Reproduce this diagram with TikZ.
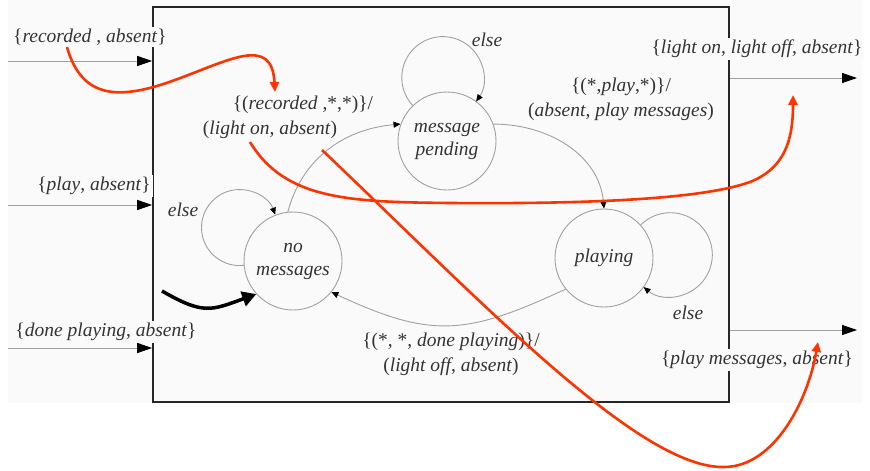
\documentclass[tikz,border=0pt]{standalone}
\usepackage{fontspec}
\setmainfont{Liberation Serif}
\usetikzlibrary{arrows.meta}
\definecolor{ink}{HTML}{333333}
\definecolor{edgegrey}{HTML}{A0A0A0}
\definecolor{paper}{HTML}{FAFAFA}
\definecolor{hl}{HTML}{FF3300}
\begin{document}
\begin{tikzpicture}[x=1pt,y=-1pt,
  every node/.style={text=ink, font=\fontsize{19.5}{25}\selectfont, inner sep=1pt},
  state/.style={circle, draw=edgegrey, line width=0.9pt, minimum size=98pt,
    inner sep=0pt, align=center, font=\fontsize{19.5}{25}\selectfont\itshape},
  trans/.style={draw=edgegrey, line width=0.9pt,
    -{Triangle[length=7pt,width=6pt,color=black]}},
  io/.style={draw=edgegrey, line width=1pt,
    -{Triangle[length=15pt,width=10pt,color=black]}},
  iolabel/.style={fill=paper, inner sep=2pt},
  initarrow/.style={draw=black, line width=3.5pt,
    -{Triangle[length=14pt,width=15pt]}},
  trace/.style={draw=hl, line width=2.6pt,
    -{Triangle[length=10pt,width=9pt]}},
  tr/.style={align=center},
]
\useasboundingbox (0,0) rectangle (870,471);
\fill[paper] (8,0) rectangle (862,403);

% system boundary
\node[draw=black!85, line width=1.6pt, minimum width=576pt, minimum height=395pt,
  inner sep=0pt] (sys) at (441,204.5) {};

% states
\node[state] (mp) at (447,141) {message\\[-2pt]pending};
\node[state] (nm) at (293,261) {no\\[-2pt]messages};
\node[state] (pl) at (604,258) {playing};

% self loops
\draw[trans] (mp.134) arc[start angle=222.7, end angle=-35.6, radius=41pt];
\draw[trans] (nm.185.5) arc[start angle=276.4, end angle=19.9, radius=38pt];
\draw[trans] (pl.42) arc[start angle=134.8, end angle=-129.6, radius=42pt];
\node (e1) at (487,40) {\textit{else}};
\node (e2) at (183,210) {\textit{else}};
\node (e3) at (688,313) {\textit{else}};

% transitions
\draw[trans] (nm.96) to[out=75, in=185] (mp.160);
\draw[trans] (mp.20) to[out=0, in=95] (pl.90);
\draw[trans] (pl.219) to[out=205, in=335, looseness=1.2] (nm.321);

\node (t1a) at (303,105) {\{(\textit{recorded} ,*,*)\}/};
\node (t1b) at (270,130) {(\textit{light on}, \textit{absent})};
\node[tr] (t2) at (621,99) {\{(*,\textit{play},*)\}/\\(\textit{absent}, \textit{play messages})};
\node[tr] (t3) at (451,354) {\{(*, *, \textit{done playing})\}/\\(\textit{light off}, \textit{absent})};

% initial state marker
\coordinate (init) at (162,291);
\draw[initarrow] (init) to[out=-30, in=200, looseness=1.3] (nm.222);

% inputs
\coordinate (i1) at (8,61);
\coordinate (i2) at (8,205);
\coordinate (i3) at (8,348);
\draw[io] (i1) -- (i1 -| sys.west);
\draw[io] (i2) -- (i2 -| sys.west);
\draw[io] (i3) -- (i3 -| sys.west);
\node[iolabel] (l1) at (90,37) {\{\textit{recorded} , \textit{absent}\}};
\node[iolabel] (l2) at (94,186) {\{\textit{play}, \textit{absent}\}};
\node[iolabel] (l3) at (106,332) {\{\textit{done playing}, \textit{absent}\}};

% outputs
\coordinate (o1) at (857,78);
\coordinate (o2) at (857,330);
\draw[io] (o1 -| sys.east) -- (o1);
\draw[io] (o2 -| sys.east) -- (o2);
\node[iolabel] (l4) at (757,49) {\{\textit{light on}, \textit{light off}, \textit{absent}\}};
\node[iolabel] (l5) at (757,360) {\{\textit{play messages}, \textit{absent}\}};

% highlighted traces
\coordinate (r1s) at (67,47);
\coordinate (r1e) at (275,92);
\coordinate (r2s) at (250,142);
\coordinate (r2e) at (793,95);
\coordinate (r3s) at (322,150);
\coordinate (r3e) at (818,342);
\draw[trace] (r1s) .. controls (82,100) and (120,100) .. (175,80)
  .. controls (230,60) and (272,35) .. (r1e);
\draw[trace] (r2s) .. controls (285,200) and (350,202) .. (450,203)
  .. controls (580,204) and (700,200) .. (750,182)
  .. controls (785,168) and (793,140) .. (r2e);
\draw[trace] (r3s) .. controls (480,300) and (640,470) .. (725,467)
  .. controls (775,466) and (808,400) .. (r3e);
\end{tikzpicture}
\end{document}
